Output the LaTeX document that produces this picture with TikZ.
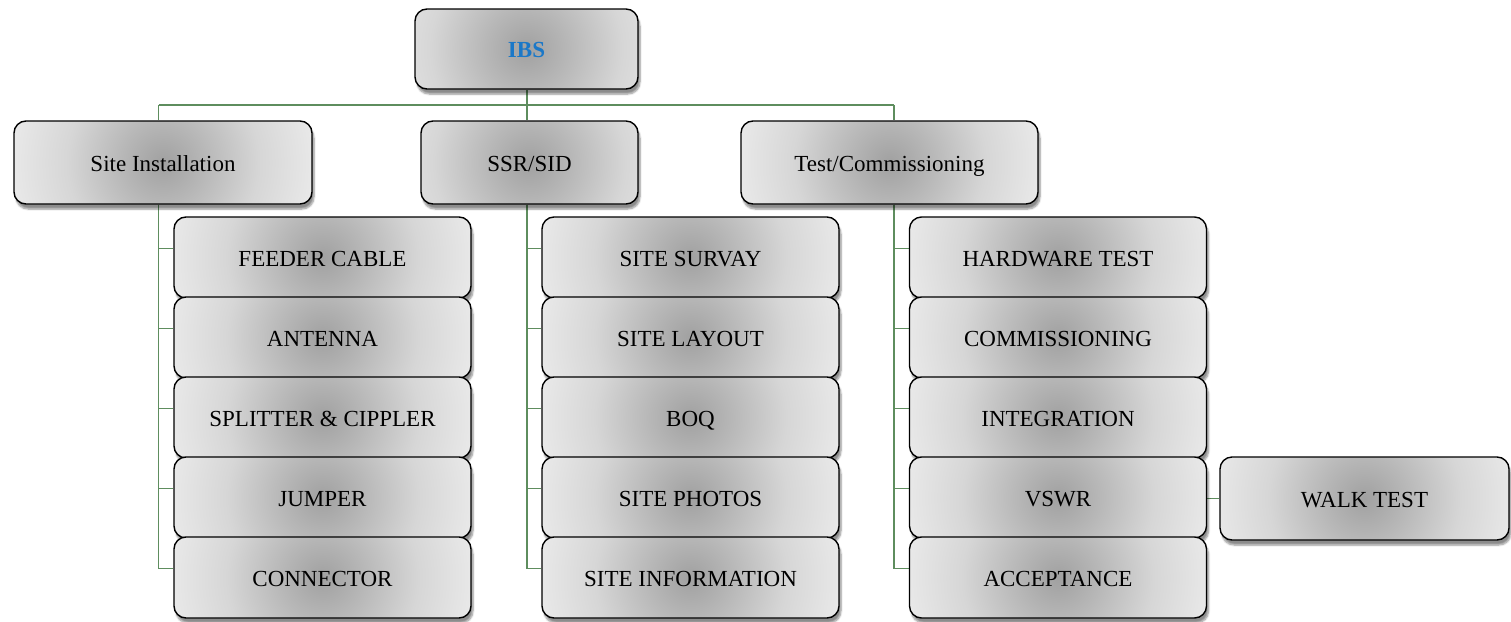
\documentclass[tikz,border=0pt]{standalone}
\usepackage{fontspec}
\setmainfont{Liberation Serif}
\usetikzlibrary{shadows.blur,backgrounds}
\definecolor{conncol}{HTML}{5E8D5E}
\definecolor{ibsblue}{HTML}{1B78C8}
\pgfdeclareradialshading{boxshade}{\pgfpoint{0bp}{0bp}}{color(0bp)=(black!37); color(7bp)=(black!28); color(16bp)=(black!16); color(25bp)=(black!9); color(50bp)=(black!9)}
\tikzset{
  box/.style={draw=black, line width=1.4pt, rounded corners=12pt, inner sep=0pt,
    fill=black!9, font=\fontsize{23}{27}\selectfont, text height=21pt, text depth=4pt,
    path picture={\shade[shading=boxshade] (path picture bounding box.center) circle (150pt);},
    blur shadow={shadow xshift=2pt, shadow yshift=-5pt, shadow opacity=45, shadow blur steps=6}},
  l1/.style={box, minimum height=83pt},
  kid/.style={box, minimum width=297pt, minimum height=81pt},
  conn/.style={draw=conncol, line width=1.5pt}
}
\begin{document}
\begin{tikzpicture}[x=1pt,y=-1pt]
\useasboundingbox (0,0) rectangle (1511,621);
% top
\node[box, minimum width=223pt, minimum height=80pt, text=ibsblue, font=\fontsize{23}{27}\selectfont\bfseries] (ibs) at (526.5,49) {IBS};
% level 1
\node[l1, minimum width=298pt] (si) at (163,162.5) {Site Installation};
\node[l1, minimum width=217pt] (ssr) at (529.5,162.5) {SSR/SID};
\node[l1, minimum width=297pt] (tc) at (889.5,162.5) {Test/Commissioning};
% column 1
\node[kid] (fc) at (322.5,257.5) {FEEDER CABLE};
\node[kid] (ant) at (322.5,337.5) {ANTENNA};
\node[kid] (spl) at (322.5,417.5) {SPLITTER \& CIPPLER};
\node[kid] (jmp) at (322.5,497.5) {JUMPER};
\node[kid] (con) at (322.5,577.5) {CONNECTOR};
% column 2
\node[kid] (sur) at (690.5,257.5) {SITE SURVAY};
\node[kid] (lay) at (690.5,337.5) {SITE LAYOUT};
\node[kid] (boq) at (690.5,417.5) {BOQ};
\node[kid] (pho) at (690.5,497.5) {SITE PHOTOS};
\node[kid] (inf) at (690.5,577.5) {SITE INFORMATION};
% column 3
\node[kid] (hw) at (1058,257.5) {HARDWARE TEST};
\node[kid] (com) at (1058,337.5) {COMMISSIONING};
\node[kid] (int) at (1058,417.5) {INTEGRATION};
\node[kid] (vswr) at (1058,497.5) {VSWR};
\node[kid] (acc) at (1058,577.5) {ACCEPTANCE};
\node[box, minimum width=289pt, minimum height=83pt] (walk) at (1364.5,498.5) {WALK TEST};
% connectors
\begin{scope}[on background layer]
\coordinate (t1) at (158.5,105);
\coordinate (t2) at (527,105);
\coordinate (t3) at (894,105);
\draw[conn] (t1) -- (t3);
\draw[conn] (ibs.south -| t2) -- (t2);
\draw[conn] (t1) -- (t1 |- si.north);
\draw[conn] (t2) -- (t2 |- ssr.north);
\draw[conn] (t3) -- (t3 |- tc.north);
\foreach \c in {fc,ant,spl,jmp,con}{\draw[conn] (t1 |- si.south) |- ([yshift=9pt]\c.west);}
\foreach \c in {sur,lay,boq,pho,inf}{\draw[conn] (t2 |- ssr.south) |- ([yshift=9pt]\c.west);}
\foreach \c in {hw,com,int,vswr,acc}{\draw[conn] (t3 |- tc.south) |- ([yshift=9pt]\c.west);}
\draw[conn] (walk.west -| vswr.east) -- (walk.west);
\end{scope}
\end{tikzpicture}
\end{document}
